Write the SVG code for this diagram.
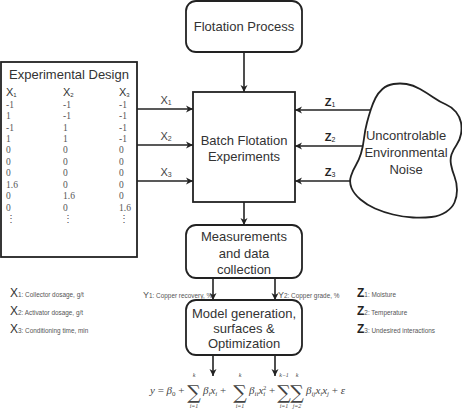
<svg xmlns="http://www.w3.org/2000/svg" width="462" height="412" viewBox="0 0 462 412">
<defs>
<style>
.box{fill:#fff;stroke:#222;stroke-width:1.8}
.ln{stroke:#222;stroke-width:1.6;fill:none}
.t{font-family:"Liberation Sans",Arial,sans-serif;fill:#333;font-size:13px;text-anchor:middle}
.num{font-family:"Liberation Serif","Times New Roman",serif;fill:#555;font-size:9.5px}
.hx{font-family:"Liberation Sans",Arial,sans-serif;fill:#333;font-size:11px}
.lbl{font-family:"Liberation Sans",Arial,sans-serif;fill:#444;font-size:11px;text-anchor:middle}
.zl{font-family:"Liberation Sans",Arial,sans-serif;fill:#222;font-size:11px;font-weight:bold;text-anchor:middle}
.leg{font-family:"Liberation Sans",Arial,sans-serif;fill:#555;font-size:6.4px}
.eq{font-family:"Liberation Serif","Times New Roman",serif;fill:#444;font-size:11px;font-style:italic}
.sig{font-family:"DejaVu Serif",serif;fill:#444;font-size:19px;text-anchor:middle}
.lim{font-family:"Liberation Serif","Times New Roman",serif;fill:#444;font-size:6px;text-anchor:middle;font-style:italic}
</style>
<marker id="ah" markerUnits="userSpaceOnUse" markerWidth="8" markerHeight="8" refX="7" refY="4" orient="auto">
<path d="M0,0.5 L7,4 L0,7.5 L2,4 Z" fill="#222"/>
</marker>
</defs>

<g id="connectors">
<line class="ln" x1="244" y1="52" x2="244" y2="92" marker-end="url(#ah)"/>
<line class="ln" x1="137" y1="109" x2="193" y2="109" marker-end="url(#ah)"/>
<line class="ln" x1="137" y1="145" x2="193" y2="145" marker-end="url(#ah)"/>
<line class="ln" x1="137" y1="181" x2="193" y2="181" marker-end="url(#ah)"/>
<line class="ln" x1="371" y1="110" x2="295" y2="110" marker-end="url(#ah)"/>
<line class="ln" x1="363" y1="146" x2="295" y2="146" marker-end="url(#ah)"/>
<line class="ln" x1="350.5" y1="181" x2="295" y2="181" marker-end="url(#ah)"/>
<line class="ln" x1="244" y1="202" x2="244" y2="225" marker-end="url(#ah)"/>
<line class="ln" x1="213" y1="278" x2="213" y2="300" marker-end="url(#ah)"/>
<line class="ln" x1="275" y1="278" x2="275" y2="300" marker-end="url(#ah)"/>
<line class="ln" x1="213" y1="355" x2="213" y2="376" marker-end="url(#ah)"/>
<line class="ln" x1="275" y1="355" x2="275" y2="376" marker-end="url(#ah)"/>
<text class="lbl" x="166" y="104">X<tspan font-size="7" dy="1">1</tspan></text>
<text class="lbl" x="166" y="140">X<tspan font-size="7" dy="1">2</tspan></text>
<text class="lbl" x="166" y="176">X<tspan font-size="7" dy="1">3</tspan></text>
<text class="zl" x="330" y="106">Z<tspan font-size="7" font-weight="normal" dy="1">1</tspan></text>
<text class="zl" x="330" y="141">Z<tspan font-size="7" font-weight="normal" dy="1">2</tspan></text>
<text class="zl" x="330" y="176">Z<tspan font-size="7" font-weight="normal" dy="1">3</tspan></text>
<text class="leg" x="143" y="298" font-size="5.6"><tspan font-size="9">Y</tspan>1: Copper recovery, %</text>
<text class="leg" x="278" y="298" font-size="5.6"><tspan font-size="9">Y</tspan>2: Copper grade, %</text>
</g>

<g id="flotation-process">
<rect class="box" x="186" y="1" width="116" height="51" rx="10"/>
<text class="t" x="244" y="30.5">Flotation Process</text>
</g>

<g id="batch-flotation">
<rect class="box" x="193" y="92" width="102" height="110"/>
<text class="t" x="244" y="144.5">Batch Flotation</text>
<text class="t" x="244" y="160.5">Experiments</text>
</g>

<g id="experimental-design">
<rect class="box" x="1" y="62" width="136" height="195"/>
<text class="t" x="69" y="79" font-size="13.5">Experimental Design</text>
<text class="hx" x="6" y="96">X<tspan font-size="6" dy="1">1</tspan></text>
<text class="hx" x="63" y="96">X<tspan font-size="6" dy="1">2</tspan></text>
<text class="hx" x="119" y="96">X<tspan font-size="6" dy="1">3</tspan></text>
<g class="num">
<text x="6" y="107.5">-1</text><text x="63" y="107.5">-1</text><text x="119" y="107.5">-1</text>
<text x="6" y="119">1</text><text x="63" y="119">-1</text><text x="119" y="119">-1</text>
<text x="6" y="130.5">-1</text><text x="63" y="130.5">1</text><text x="119" y="130.5">-1</text>
<text x="6" y="142">1</text><text x="63" y="142">1</text><text x="119" y="142">-1</text>
<text x="6" y="153">0</text><text x="63" y="153">0</text><text x="119" y="153">0</text>
<text x="6" y="164.5">0</text><text x="63" y="164.5">0</text><text x="119" y="164.5">0</text>
<text x="6" y="176">0</text><text x="63" y="176">0</text><text x="119" y="176">0</text>
<text x="6" y="187.5">1.6</text><text x="63" y="187.5">0</text><text x="119" y="187.5">0</text>
<text x="6" y="199">0</text><text x="63" y="199">1.6</text><text x="119" y="199">0</text>
<text x="6" y="210.5">0</text><text x="63" y="210.5">0</text><text x="119" y="210.5">1.6</text>
<text x="6" y="222">⋮</text><text x="63" y="222">⋮</text><text x="119" y="222">⋮</text>
</g>
</g>

<g id="noise">
<path class="box" d="M382.5,89 Q387,85 393.5,84 Q400,83 406.5,84 Q413,85 420,89 Q427,93 433.5,97.5 Q440,102 446,104.5 Q452,107 456,112 Q460,117 461,122.5 Q462,128 461,134 Q460,140 456.5,145 Q453,150 451.5,154.5 Q450,159 451,164.5 Q452,170 454.5,176.5 Q457,183 457,190 Q457,197 454.5,202.5 Q452,208 446,212 Q440,216 431.5,217 Q423,218 413,217.5 Q403,217 393,214.5 Q383,212 375,208.5 Q367,205 360.5,199.5 Q354,194 351.5,188 Q349,182 351,176 Q353,170 356,165 Q359,160 361,153.5 Q363,147 364,138.5 Q365,130 367,122.5 Q369,115 371,109 Q373,103 375.5,98 Q378,93 382.5,89 Z"/>
<text class="t" x="406" y="139.5">Uncontrolable</text>
<text class="t" x="406" y="156.5">Environmental</text>
<text class="t" x="406" y="173.5">Noise</text>
</g>

<g id="measurements">
<rect class="box" x="186" y="225" width="116" height="53" rx="10"/>
<text class="t" x="244" y="240.5">Measurements</text>
<text class="t" x="244" y="257.5">and data</text>
<text class="t" x="244" y="273.5">collection</text>
</g>

<g id="model">
<rect class="box" x="186" y="300" width="116" height="55" rx="10"/>
<text class="t" x="244" y="317.5">Model generation,</text>
<text class="t" x="244" y="332.5">surfaces &amp;</text>
<text class="t" x="244" y="347.5">Optimization</text>
</g>

<g id="x-legend">
<text class="leg" x="10" y="297"><tspan font-size="12" fill="#333">X</tspan>1: Collector dosage, g/t</text>
<text class="leg" x="10" y="315"><tspan font-size="12" fill="#333">X</tspan>2: Activator dosage, g/t</text>
<text class="leg" x="10" y="333"><tspan font-size="12" fill="#333">X</tspan>3: Conditioning time, min</text>
</g>

<g id="z-legend">
<text class="leg" x="357" y="297"><tspan font-size="12" font-weight="bold" fill="#222">Z</tspan>1: Moisture</text>
<text class="leg" x="357" y="315"><tspan font-size="12" font-weight="bold" fill="#222">Z</tspan>2: Temperature</text>
<text class="leg" x="357" y="333"><tspan font-size="12" font-weight="bold" fill="#222">Z</tspan>3: Undesired interactions</text>
</g>

<g id="equation">
<text class="eq" x="150" y="394">y <tspan font-style="normal">=</tspan> β<tspan font-size="7" dy="2" font-style="normal">0</tspan><tspan dy="-2" font-style="normal"> +</tspan></text>
<text class="sig" x="194" y="399">∑</text>
<text class="lim" x="194" y="377">k</text>
<text class="lim" x="194" y="408">i=1</text>
<text class="eq" x="203" y="394">β<tspan font-size="7" dy="2">i</tspan><tspan dy="-2">x</tspan><tspan font-size="7" dy="2">i</tspan><tspan dy="-2" font-style="normal"> +</tspan></text>
<text class="sig" x="240" y="399">∑</text>
<text class="lim" x="240" y="377">k</text>
<text class="lim" x="240" y="408">i=1</text>
<text class="eq" x="249" y="394">β<tspan font-size="7" dy="2">ii</tspan><tspan dy="-2">x</tspan><tspan font-size="7" dy="2">i</tspan><tspan font-size="6" dx="-2" dy="-6" font-style="normal">2</tspan><tspan dy="4" font-style="normal"> +</tspan></text>
<text class="sig" x="284" y="399">∑</text>
<text class="sig" x="297" y="399">∑</text>
<text class="lim" x="284" y="377">k−1</text>
<text class="lim" x="297" y="377">k</text>
<text class="lim" x="284" y="408">i=1</text>
<text class="lim" x="297" y="408">j=2</text>
<text class="eq" x="306" y="394">β<tspan font-size="7" dy="2">ij</tspan><tspan dy="-2">x</tspan><tspan font-size="7" dy="2">i</tspan><tspan dy="-2">x</tspan><tspan font-size="7" dy="2">j</tspan><tspan dy="-2" font-style="normal"> + </tspan>ε</text>
</g>
</svg>
